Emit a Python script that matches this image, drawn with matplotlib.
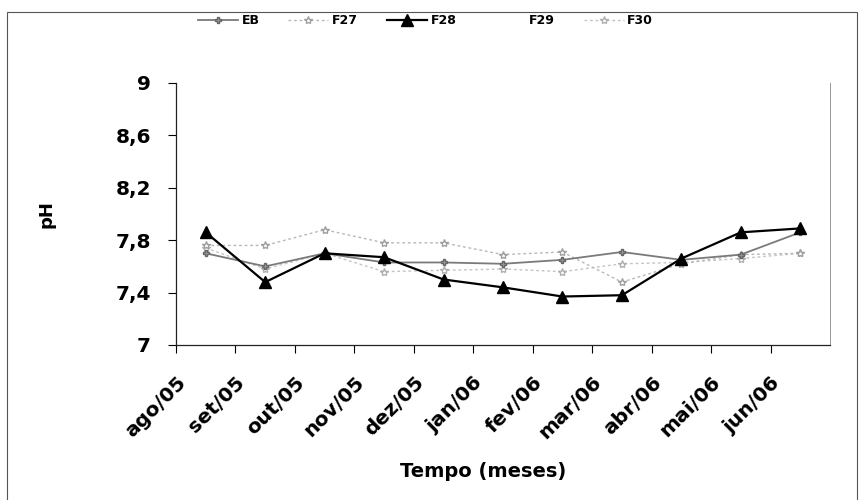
import matplotlib
matplotlib.use("Agg")
import matplotlib.pyplot as plt
from matplotlib.patches import Rectangle

plt.rcParams['font.family'] = ['DejaVu Sans']
plt.rcParams['font.weight'] = 'bold'

categories = ["ago/05", "set/05", "out/05", "nov/05", "dez/05", "jan/06",
              "fev/06", "mar/06", "abr/06", "mai/06", "jun/06"]
eb  = [7.70, 7.60, 7.70, 7.63, 7.63, 7.62, 7.65, 7.71, 7.65, 7.69, 7.86]
f27 = [7.76, 7.76, 7.88, 7.78, 7.78, 7.69, 7.71, 7.48, 7.62, 7.69, 7.70]
f28 = [7.86, 7.48, 7.70, 7.67, 7.50, 7.44, 7.37, 7.38, 7.66, 7.86, 7.89]
f29 = [7.72, 7.62, 7.70, 7.60, 7.62, 7.60, 7.62, 7.66, 7.64, 7.68, 7.72]
f30 = [7.74, 7.58, 7.70, 7.56, 7.57, 7.58, 7.56, 7.62, 7.63, 7.66, 7.70]
yticks = [7.0, 7.4, 7.8, 8.2, 8.6, 9.0]
ytick_labels = ["7", "7,4", "7,8", "8,2", "8,6", "9"]

W, H = 863, 500
fig = plt.figure(figsize=(W / 100, H / 100), dpi=100)
ax = fig.add_axes([176 / W, 1 - 345 / H, (830 - 176) / W, (345 - 83) / H])

x = list(range(len(categories)))
ax.plot(x, f29, color='white', lw=1.0, zorder=1, label='F29')
ax.plot(x, f30, color='#c4c4c4', lw=1.0, ls=(0, (2, 2)), marker='*', ms=6,
        mfc='white', mec='#b0b0b0', zorder=2, label='F30')
ax.plot(x, f27, color='#b8b8b8', lw=1.0, ls=(0, (2, 2)), marker='*', ms=6,
        mfc='white', mec='#a0a0a0', zorder=2, label='F27')
ax.plot(x, eb, color='#7a7a7a', lw=1.3, marker='P', ms=5,
        mfc='#9a9a9a', mec='#666666', zorder=3, label='EB')
ax.plot(x, f28, color='black', lw=1.6, marker='^', ms=8, zorder=4, label='F28')

ax.set_xlim(-0.5, len(categories) - 0.5)
ax.set_ylim(7, 9)
ax.set_yticks(yticks)
ax.set_yticklabels(ytick_labels, fontsize=14.5, fontweight='bold')
ax.set_xticks([i - 0.5 for i in x])
ax.set_xticklabels(categories, rotation=45, ha='right', rotation_mode='anchor',
                   fontsize=14.5, fontweight='bold')
ax.tick_params(axis='x', direction='out', length=6, width=0.8, pad=14)
ax.tick_params(axis='y', direction='out', length=6, width=0.8, pad=12)
for s in ['left', 'bottom']:
    ax.spines[s].set_color('#222222')
    ax.spines[s].set_linewidth(0.9)
for s in ['right', 'top']:
    ax.spines[s].set_color('#999999')
    ax.spines[s].set_linewidth(0.7)
ax.spines['top'].set_visible(False)

ax.set_ylabel('pH', fontsize=13, fontweight='bold')
ax.yaxis.set_label_coords(-0.185, 0.5)
ax.set_xlabel('Tempo (meses)', fontsize=14, fontweight='bold')
ax.xaxis.set_label_coords(0.469, -0.448)

handles, labels = ax.get_legend_handles_labels()
order = ['EB', 'F27', 'F28', 'F29', 'F30']
hmap = dict(zip(labels, handles))
fig.legend([hmap[k] for k in order], order, loc='center', ncol=5,
           bbox_to_anchor=(0.493, 0.958), frameon=False,
           prop={'weight': 'bold', 'size': 9}, handlelength=3.2,
           columnspacing=2.3, handletextpad=0.3)

fig.patches.append(Rectangle((7 / W, -0.02), (857 - 7) / W, 1.02 - 12 / H,
                             transform=fig.transFigure, fill=False,
                             edgecolor='#555555', lw=0.8))

fig.savefig('out.png', dpi=100, facecolor='white')
